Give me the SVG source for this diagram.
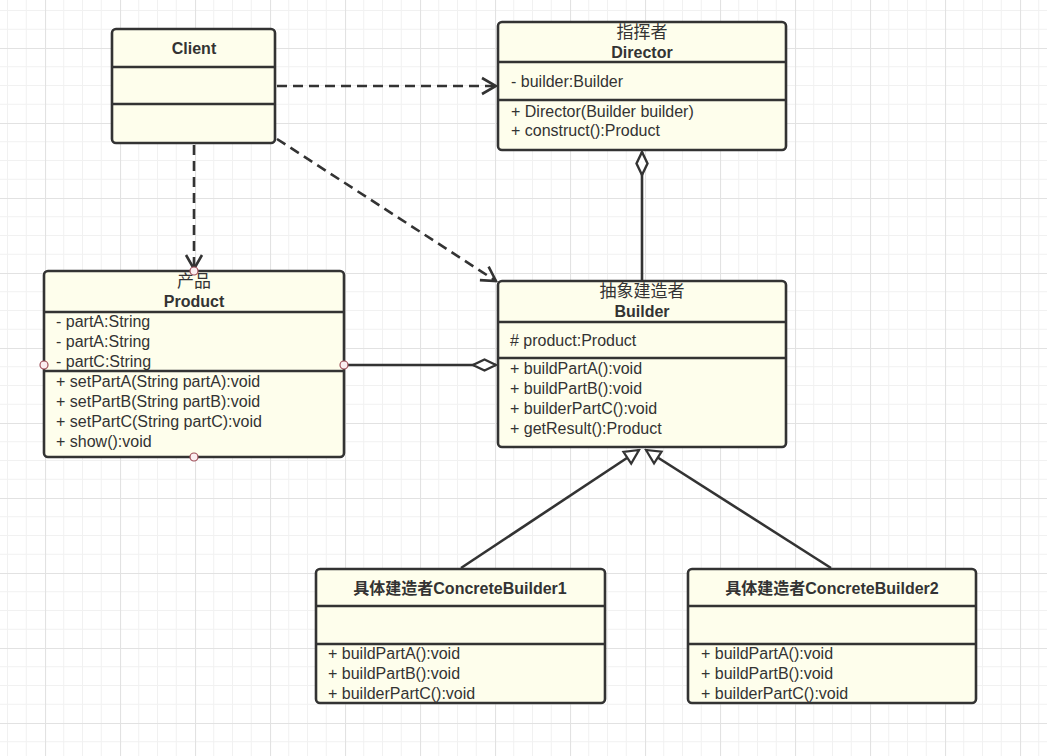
<svg xmlns="http://www.w3.org/2000/svg" width="1047" height="756" viewBox="0 0 1047 756">
<style>
.box{fill:#fefeec;stroke:#333;stroke-width:2.6}
.div{stroke:#333;stroke-width:2.6;fill:none}
.t{font-family:"Liberation Sans","Noto Sans CJK SC",Arial,sans-serif;font-size:16px;fill:#333}
.b{font-weight:bold;text-anchor:middle}
.c{text-anchor:middle}
.cjk{font-size:17px}
.dash{stroke:#333;stroke-width:2.6;fill:none;stroke-dasharray:10 6}
.solid{stroke:#333;stroke-width:2.6;fill:none}
.pt{fill:#fbeef0;stroke:#a0505a;stroke-width:1.2}
</style>
<defs>
<pattern id="grid" x="45" y="48" width="75" height="75" patternUnits="userSpaceOnUse">
<path d="M18.75 0V75M37.5 0V75M56.25 0V75M0 18.75H75M0 37.5H75M0 56.25H75" stroke="#f1f1f1" stroke-width="1" fill="none"/>
<path d="M0.5 0V75M0 0.5H75" stroke="#e2e2e2" stroke-width="1.2" fill="none"/>
</pattern>
<marker id="open" viewBox="-16 -10 18 20" markerWidth="18" markerHeight="20" refX="0" refY="0" orient="auto" markerUnits="userSpaceOnUse">
<path d="M-14,-8 L0,0 L-14,8" fill="none" stroke="#333" stroke-width="2.6"/>
</marker>
<marker id="diamond" viewBox="-26 -8 28 16" markerWidth="28" markerHeight="16" refX="0" refY="0" orient="auto" markerUnits="userSpaceOnUse">
<path d="M0,0 L-11.5,-5.5 L-23,0 L-11.5,5.5 Z" fill="#fff" stroke="#333" stroke-width="2.4"/>
</marker>
<marker id="tri" viewBox="-18 -10 20 20" markerWidth="20" markerHeight="20" refX="0" refY="0" orient="auto" markerUnits="userSpaceOnUse">
<path d="M0,0 L-14,-7 L-14,7 Z" fill="#fff" stroke="#333" stroke-width="2.2"/>
</marker>
</defs>
<rect width="1047" height="756" fill="#fff"/>
<rect width="1047" height="756" fill="url(#grid)"/>

<g id="connectors">
<path class="dash" d="M277,86 L496,86" marker-end="url(#open)"/>
<path class="dash" d="M194,145 L194,269" marker-end="url(#open)"/>
<path class="dash" d="M277,139 L496,281" marker-end="url(#open)"/>
<path class="solid" d="M642,280 L642,152" marker-end="url(#diamond)"/>
<path class="solid" d="M345,365 L496,365" marker-end="url(#diamond)"/>
<path class="solid" d="M461,568 L639,450" marker-end="url(#tri)"/>
<path class="solid" d="M831,568 L646,450" marker-end="url(#tri)"/>
</g>

<g id="client">
<rect class="box" x="112" y="29" width="163" height="114" rx="4"/>
<path class="div" d="M112,67H275M112,104H275"/>
<text class="t b" x="194" y="54">Client</text>
</g>

<g id="director">
<rect class="box" x="498" y="22" width="288" height="128" rx="4"/>
<path class="div" d="M498,62H786M498,100H786"/>
<text class="t c cjk" x="642" y="38">指挥者</text>
<text class="t b" x="642" y="58">Director</text>
<text class="t" x="511" y="87">- builder:Builder</text>
<text class="t" x="511" y="117">+ Director(Builder builder)</text>
<text class="t" x="511" y="136">+ construct():Product</text>
</g>

<g id="product">
<rect class="box" x="44" y="271" width="300" height="186" rx="4"/>
<path class="div" d="M44,312H344M44,371H344"/>
<text class="t c cjk" x="194" y="287">产品</text>
<text class="t b" x="194" y="307">Product</text>
<text class="t" x="56" y="327">- partA:String</text>
<text class="t" x="56" y="347">- partA:String</text>
<text class="t" x="56" y="367">- partC:String</text>
<text class="t" x="56" y="387">+ setPartA(String partA):void</text>
<text class="t" x="56" y="407">+ setPartB(String partB):void</text>
<text class="t" x="56" y="427">+ setPartC(String partC):void</text>
<text class="t" x="56" y="447">+ show():void</text>
<circle class="pt" cx="44" cy="365" r="4"/>
<circle class="pt" cx="344" cy="365" r="4"/>
<circle class="pt" cx="194" cy="271" r="4"/>
<circle class="pt" cx="194" cy="457" r="4"/>
</g>

<g id="builder">
<rect class="box" x="498" y="281" width="288" height="166" rx="4"/>
<path class="div" d="M498,322H786M498,358H786"/>
<text class="t c cjk" x="642" y="297">抽象建造者</text>
<text class="t b" x="642" y="317">Builder</text>
<text class="t" x="510" y="346"># product:Product</text>
<text class="t" x="510" y="374">+ buildPartA():void</text>
<text class="t" x="510" y="394">+ buildPartB():void</text>
<text class="t" x="510" y="414">+ builderPartC():void</text>
<text class="t" x="510" y="434">+ getResult():Product</text>
</g>

<g id="concrete1">
<rect class="box" x="316" y="569" width="289" height="134" rx="4"/>
<path class="div" d="M316,606H605M316,644H605"/>
<text class="t b" x="460" y="594">具体建造者ConcreteBuilder1</text>
<text class="t" x="328" y="659">+ buildPartA():void</text>
<text class="t" x="328" y="679">+ buildPartB():void</text>
<text class="t" x="328" y="699">+ builderPartC():void</text>
</g>

<g id="concrete2">
<rect class="box" x="688" y="569" width="288" height="134" rx="4"/>
<path class="div" d="M688,606H976M688,644H976"/>
<text class="t b" x="832" y="594">具体建造者ConcreteBuilder2</text>
<text class="t" x="701" y="659">+ buildPartA():void</text>
<text class="t" x="701" y="679">+ buildPartB():void</text>
<text class="t" x="701" y="699">+ builderPartC():void</text>
</g>
</svg>
